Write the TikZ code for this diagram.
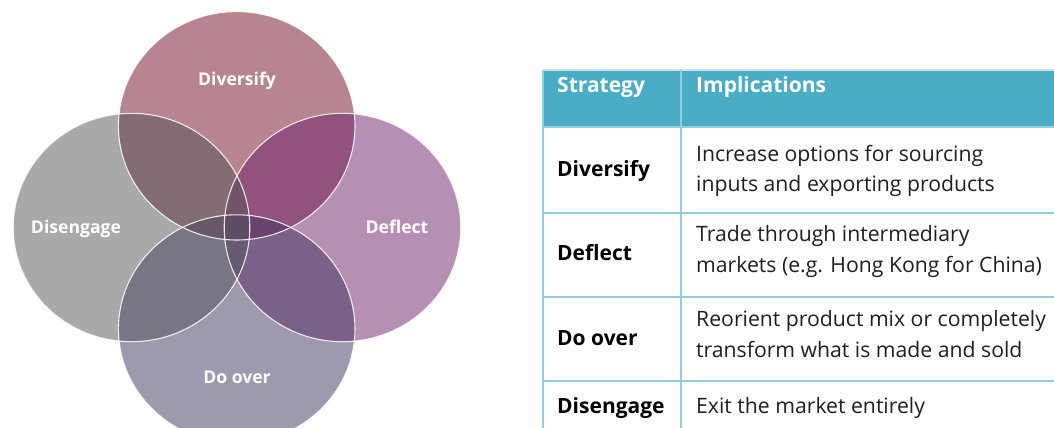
\documentclass[tikz,border=0pt]{standalone}
\usepackage{fontspec}
\setmainfont{Open Sans}
\definecolor{ctop}{RGB}{113,13,33}
\definecolor{cleft}{RGB}{83,85,89}
\definecolor{cright}{RGB}{111,33,109}
\definecolor{cbot}{RGB}{65,53,97}
\definecolor{thead}{RGB}{75,172,198}
\definecolor{tline}{RGB}{146,205,220}
\definecolor{ttop}{RGB}{208,222,228}
\begin{document}
\begin{tikzpicture}[x=1pt,y=-1pt,
  venn/.style={fill opacity=0.5},
  vedge/.style={draw=white,line width=1.1pt,draw opacity=0.85},
  vlabel/.style={text=white,font=\fontsize{17.6}{21}\selectfont\bfseries,inner sep=0pt,anchor=base},
  tl/.style={draw=tline,line width=2.6pt},
  hd/.style={text=white,font=\fontsize{21}{25}\selectfont\bfseries,inner sep=0pt,anchor=base west},
  st/.style={text=black,font=\fontsize{21}{25}\selectfont\bfseries,inner sep=0pt,anchor=base west},
  bd/.style={text=black!88,font=\fontsize{21.2}{25}\selectfont,inner sep=0pt,anchor=base west}]
\useasboundingbox (0,0) rectangle (1054,428);
\clip (0,0) rectangle (1054,428);
\fill[white] (0,0) rectangle (1054,428);
% circles
\coordinate (cT) at (236.7,125.8);
\coordinate (cR) at (342.5,227.5);
\coordinate (cB) at (236.7,329);
\coordinate (cL) at (131.5,227.5);
\fill[venn,ctop] (cT) ellipse [x radius=118.3,y radius=114.2];
\fill[venn,cright] (cR) ellipse [x radius=118.3,y radius=114.2];
\fill[venn,cbot] (cB) ellipse [x radius=118.3,y radius=114.2];
\fill[venn,cleft] (cL) ellipse [x radius=118.3,y radius=114.2];
\draw[vedge] (cT) ellipse [x radius=118.3,y radius=114.2];
\draw[vedge] (cR) ellipse [x radius=118.3,y radius=114.2];
\draw[vedge] (cB) ellipse [x radius=118.3,y radius=114.2];
\draw[vedge] (cL) ellipse [x radius=118.3,y radius=114.2];
\node[vlabel] (lT) at (237,85) {Diversify};
\node[vlabel] (lL) at (76,233) {Disengage};
\node[vlabel] (lR) at (397,233) {Deflect};
\node[vlabel] (lB) at (237,383) {Do over};
% table
\fill[thead] (543,70) rectangle (1054,126);
\draw[ttop,line width=1.5pt] (543,70) -- (1054,70);
\draw[tl] (543,127) -- (1054,127);
\draw[tl] (543,213) -- (1054,213);
\draw[tl] (543,297) -- (1054,297);
\draw[tl] (543,381) -- (1054,381);
\draw[tl] (543,70) -- (543,428);
\draw[tl] (681,70) -- (681,428);
\node[hd] (h1) at (557,92.5) {Strategy};
\node[hd] (h2) at (696,92.5) {Implications};
\node[st] (s1) at (557,176.5) {Diversify};
\node[bd] (b1a) at (696,161) {Increase options for sourcing};
\node[bd] (b1b) at (696,191.5) {inputs and exporting products};
\node[st] (s2) at (557,260) {Deflect};
\node[bd] (b2a) at (696,241.5) {Trade through intermediary};
\node[bd] (b2b) at (696,272) {markets (e.g. Hong Kong for China)};
\node[st] (s3) at (557,345) {Do over};
\node[bd] (b3a) at (696,326.5) {Reorient product mix or completely};
\node[bd] (b3b) at (696,357.5) {transform what is made and sold};
\node[st] (s4) at (557,413.3) {Disengage};
\node[bd] (b4) at (696,413.3) {Exit the market entirely};
\end{tikzpicture}
\end{document}
